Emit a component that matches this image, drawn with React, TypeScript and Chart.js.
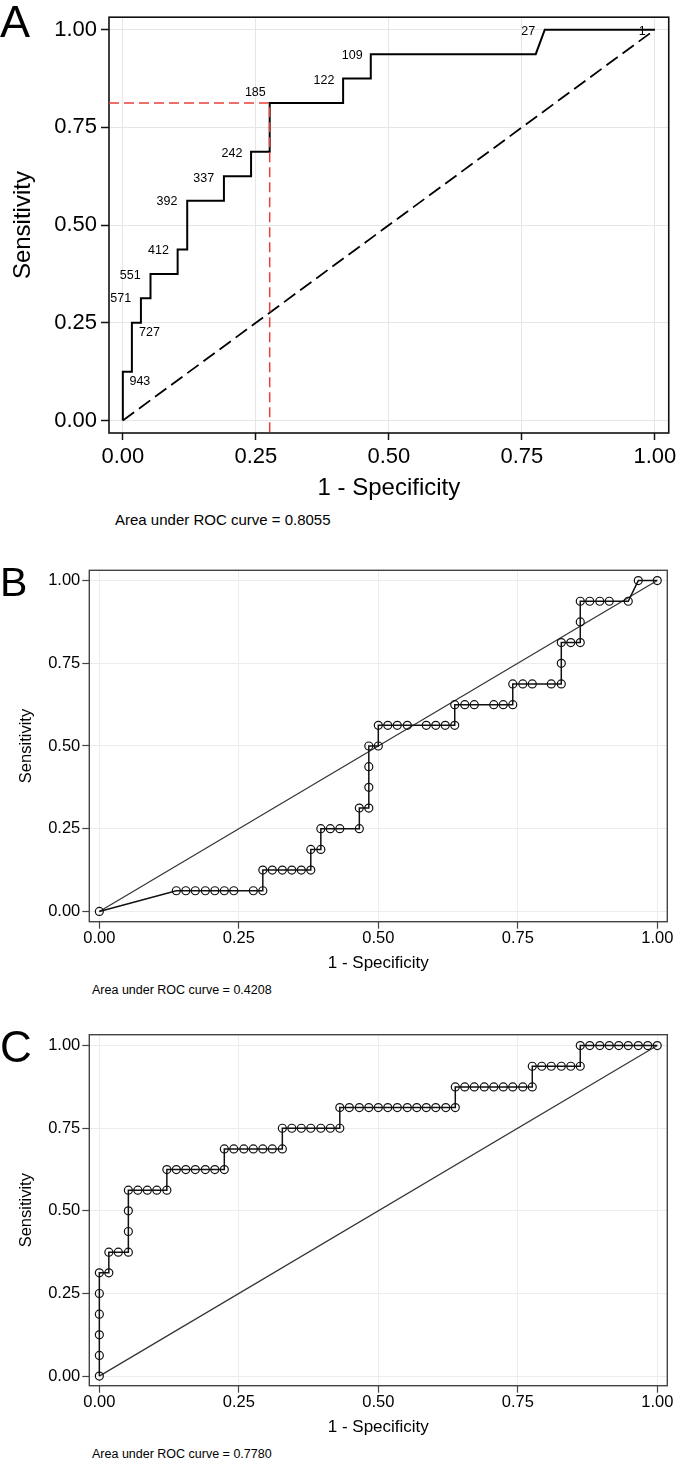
import React, { useEffect, useRef } from "react";
import { Chart, registerables } from "chart.js";

Chart.register(...registerables);

const FONT = '"Liberation Sans", Arial, Helvetica, sans-serif';

// Shared axis ticks / titles
const TICK_VALUES = [0, 0.25, 0.5, 0.75, 1];
const TICK_LABELS = ["0.00", "0.25", "0.50", "0.75", "1.00"];
const X_TITLE = "1 - Specificity";
const Y_TITLE = "Sensitivity";
const PANEL_LETTERS = ["A", "B", "C"];
const AUC_TEXTS = [
  "Area under ROC curve = 0.8055",
  "Area under ROC curve = 0.4208",
  "Area under ROC curve = 0.7780",
];

// Panel A: ROC step curve (1 - specificity, sensitivity)
const A_X = [0, 0, 0.017, 0.017, 0.034, 0.034, 0.052, 0.052, 0.103, 0.103, 0.121, 0.121, 0.19, 0.19, 0.241, 0.241, 0.276, 0.276, 0.414, 0.414, 0.466, 0.466, 0.776, 0.793, 1];
const A_Y = [0, 0.125, 0.125, 0.25, 0.25, 0.3125, 0.3125, 0.375, 0.375, 0.4375, 0.4375, 0.5625, 0.5625, 0.625, 0.625, 0.6875, 0.6875, 0.8125, 0.8125, 0.875, 0.875, 0.9375, 0.9375, 1, 1];
// cut-off labels
const A_LABELS = ["943", "727", "571", "551", "412", "392", "337", "242", "185", "122", "109", "27", "1"];
const A_LABEL_X = [0.032, 0.05, -0.004, 0.014, 0.067, 0.083, 0.152, 0.205, 0.249, 0.378, 0.431, 0.762, 0.976];
const A_LABEL_Y = [0.1, 0.224, 0.311, 0.371, 0.434, 0.559, 0.62, 0.682, 0.839, 0.87, 0.933, 0.996, 0.996];
// optimal cut-off reference
const A_CUT_X = 0.276;
const A_CUT_Y = 0.8125;

// Panel B
const B_X = [
  0,
  0.138, 0.155, 0.172, 0.19, 0.207, 0.224, 0.241, 0.276, 0.293,
  0.293, 0.31, 0.328, 0.345, 0.362, 0.379,
  0.379, 0.397,
  0.397, 0.414, 0.431, 0.466,
  0.466, 0.483,
  0.483, 0.483, 0.483, 0.5,
  0.5, 0.517, 0.534, 0.552, 0.586, 0.603, 0.62, 0.637,
  0.637, 0.655, 0.672, 0.707, 0.724, 0.741,
  0.741, 0.759, 0.776, 0.81, 0.828,
  0.828, 0.828, 0.845, 0.862,
  0.862, 0.862, 0.879, 0.897, 0.914, 0.948,
  0.966, 1,
];
const B_Y = [
  0,
  0.0625, 0.0625, 0.0625, 0.0625, 0.0625, 0.0625, 0.0625, 0.0625, 0.0625,
  0.125, 0.125, 0.125, 0.125, 0.125, 0.125,
  0.1875, 0.1875,
  0.25, 0.25, 0.25, 0.25,
  0.3125, 0.3125,
  0.375, 0.4375, 0.5, 0.5,
  0.5625, 0.5625, 0.5625, 0.5625, 0.5625, 0.5625, 0.5625, 0.5625,
  0.625, 0.625, 0.625, 0.625, 0.625, 0.625,
  0.6875, 0.6875, 0.6875, 0.6875, 0.6875,
  0.75, 0.8125, 0.8125, 0.8125,
  0.875, 0.9375, 0.9375, 0.9375, 0.9375, 0.9375,
  1, 1,
];

// Panel C
const C_X = [
  0, 0, 0, 0, 0, 0,
  0.017,
  0.017, 0.034, 0.052,
  0.052, 0.052, 0.052,
  0.069, 0.086, 0.103, 0.121,
  0.121, 0.138, 0.155, 0.172, 0.19, 0.207, 0.224,
  0.224, 0.241, 0.259, 0.276, 0.293, 0.31, 0.328,
  0.328, 0.345, 0.362, 0.379, 0.397, 0.414, 0.431,
  0.431, 0.448, 0.466, 0.483, 0.5, 0.517, 0.534, 0.552, 0.569, 0.586, 0.603, 0.621, 0.638,
  0.638, 0.655, 0.672, 0.69, 0.707, 0.724, 0.741, 0.759, 0.776,
  0.776, 0.793, 0.81, 0.828, 0.845, 0.862,
  0.862, 0.879, 0.897, 0.914, 0.931, 0.948, 0.966, 0.983, 1,
];
const C_Y = [
  0, 0.0625, 0.125, 0.1875, 0.25, 0.3125,
  0.3125,
  0.375, 0.375, 0.375,
  0.4375, 0.5, 0.5625,
  0.5625, 0.5625, 0.5625, 0.5625,
  0.625, 0.625, 0.625, 0.625, 0.625, 0.625, 0.625,
  0.6875, 0.6875, 0.6875, 0.6875, 0.6875, 0.6875, 0.6875,
  0.75, 0.75, 0.75, 0.75, 0.75, 0.75, 0.75,
  0.8125, 0.8125, 0.8125, 0.8125, 0.8125, 0.8125, 0.8125, 0.8125, 0.8125, 0.8125, 0.8125, 0.8125, 0.8125,
  0.875, 0.875, 0.875, 0.875, 0.875, 0.875, 0.875, 0.875, 0.875,
  0.9375, 0.9375, 0.9375, 0.9375, 0.9375, 0.9375,
  1, 1, 1, 1, 1, 1, 1, 1, 1,
];

// Reference diagonal
const DIAG_X = [0, 1];
const DIAG_Y = [0, 1];

const toPoints = (xs: number[], ys: number[]) => xs.map((x, i) => ({ x, y: ys[i] }));

const boxPlugin = {
  id: "box",
  beforeDatasetsDraw(chart: any, _args: any, opts: any) {
    const { ctx, chartArea: a } = chart;
    ctx.save();
    ctx.strokeStyle = opts.color || "#000";
    ctx.lineWidth = opts.width || 1;
    ctx.strokeRect(a.left, a.top, a.right - a.left, a.bottom - a.top);
    ctx.restore();
  },
};

const labelPlugin = {
  id: "cutlabels",
  afterDatasetsDraw(chart: any, _args: any, opts: any) {
    if (!opts || !opts.texts) return;
    const { ctx } = chart;
    const xs = chart.scales.x;
    const ys = chart.scales.y;
    ctx.save();
    ctx.font = opts.font;
    ctx.fillStyle = opts.color || "#000";
    ctx.textAlign = "center";
    ctx.textBaseline = "middle";
    opts.texts.forEach((t: string, i: number) => {
      ctx.fillText(t, xs.getPixelForValue(opts.xs[i]), ys.getPixelForValue(opts.ys[i]));
    });
    ctx.restore();
  },
};

interface Geo {
  height: number;
  padTop: number;
  padRight: number;
  yAxisWidth: number;
  xAxisHeight: number;
  xMin: number;
  xMax: number;
  yMin: number;
  yMax: number;
  tickFont: number;
  xTitleFont: number;
  yTitleFont: number;
  xTickLen: number;
  yTickLen: number;
  xTickPad: number;
  yTickPad: number;
  yTitlePad: number;
  xTitlePad: number;
  gridColor: string;
  boxColor: string;
  boxWidth: number;
  tickWidth: number;
}

function buildOptions(g: Geo, extraPlugins: any = {}) {
  return {
    responsive: false,
    maintainAspectRatio: false,
    animation: false,
    devicePixelRatio: 1,
    events: [],
    layout: { padding: { left: 0, top: g.padTop, right: g.padRight, bottom: 0 } },
    plugins: {
      legend: { display: false },
      tooltip: { enabled: false },
      title: { display: false },
      box: { color: g.boxColor, width: g.boxWidth },
      ...extraPlugins,
    },
    scales: {
      x: {
        type: "linear",
        min: g.xMin,
        max: g.xMax,
        afterFit: (s: any) => {
          s.height = g.xAxisHeight;
        },
        afterBuildTicks: (s: any) => {
          s.ticks = TICK_VALUES.map((v) => ({ value: v }));
        },
        ticks: {
          callback: (_v: any, i: number) => TICK_LABELS[i],
          font: { family: FONT, size: g.tickFont },
          color: "#000",
          padding: g.xTickPad,
          maxRotation: 0,
          minRotation: 0,
          autoSkip: false,
        },
        grid: {
          color: g.gridColor,
          lineWidth: 1,
          drawTicks: true,
          tickLength: g.xTickLen,
          tickColor: g.boxColor,
          tickWidth: g.tickWidth,
        },
        border: { display: false },
        title: {
          display: true,
          text: X_TITLE,
          color: "#000",
          font: { family: FONT, size: g.xTitleFont },
          padding: { top: 0, bottom: g.xTitlePad },
        },
      },
      y: {
        type: "linear",
        min: g.yMin,
        max: g.yMax,
        afterFit: (s: any) => {
          s.width = g.yAxisWidth;
        },
        afterBuildTicks: (s: any) => {
          s.ticks = TICK_VALUES.map((v) => ({ value: v }));
        },
        ticks: {
          callback: (_v: any, i: number) => TICK_LABELS[i],
          font: { family: FONT, size: g.tickFont },
          color: "#000",
          padding: g.yTickPad,
          autoSkip: false,
        },
        grid: {
          color: g.gridColor,
          lineWidth: 1,
          drawTicks: true,
          tickLength: g.yTickLen,
          tickColor: g.boxColor,
          tickWidth: g.tickWidth,
        },
        border: { display: false },
        title: {
          display: true,
          text: Y_TITLE,
          color: "#000",
          font: { family: FONT, size: g.yTitleFont },
          padding: { top: g.yTitlePad, bottom: 0 },
        },
      },
    },
  };
}

const GEO_A: Geo = {
  height: 505,
  padTop: 3,
  padRight: 7.3,
  yAxisWidth: 109,
  xAxisHeight: 72,
  xMin: -0.026,
  xMax: 1.026,
  yMin: -0.032,
  yMax: 1.032,
  tickFont: 22,
  xTitleFont: 24,
  yTitleFont: 24,
  xTickLen: 7,
  yTickLen: 8,
  xTickPad: 3.5,
  yTickPad: 4,
  yTitlePad: 8.6,
  xTitlePad: 2.6,
  gridColor: "#e6e6e6",
  boxColor: "#111",
  boxWidth: 1.6,
  tickWidth: 1.5,
};

const GEO_B: Geo = {
  height: 425,
  padTop: 20.3,
  padRight: 12.7,
  yAxisWidth: 89.3,
  xAxisHeight: 53.3,
  xMin: -0.018,
  xMax: 1.018,
  yMin: -0.031,
  yMax: 1.031,
  tickFont: 16.5,
  xTitleFont: 17,
  yTitleFont: 16.5,
  xTickLen: 7,
  yTickLen: 7,
  xTickPad: 0,
  yTickPad: 2,
  yTitlePad: 16.1,
  xTitlePad: 1.5,
  gridColor: "#ededed",
  boxColor: "#444",
  boxWidth: 1.4,
  tickWidth: 1.2,
};

const GEO_C: Geo = { ...GEO_B, padTop: 19.7, xAxisHeight: 54.3, yMin: -0.029, yMax: 1.033, xTitlePad: 2 };

function configA() {
  return {
    type: "line",
    data: {
      datasets: [
        {
          data: [
            { x: GEO_A.xMin, y: A_CUT_Y },
            { x: A_CUT_X, y: A_CUT_Y },
            { x: A_CUT_X, y: GEO_A.yMin },
          ],
          borderColor: "#e8403b",
          borderWidth: 1.5,
          borderDash: [10, 5],
          pointRadius: 0,
          tension: 0,
        },
        {
          data: toPoints(A_X, A_Y),
          borderColor: "#000",
          borderWidth: 2,
          pointRadius: 0,
          tension: 0,
        },
        {
          data: toPoints(DIAG_X, DIAG_Y),
          borderColor: "#000",
          borderWidth: 1.8,
          borderDash: [14, 6],
          pointRadius: 0,
          tension: 0,
        },
      ],
    },
    options: buildOptions(GEO_A, {
      cutlabels: {
        texts: A_LABELS,
        xs: A_LABEL_X,
        ys: A_LABEL_Y,
        font: `12.5px ${FONT}`,
        color: "#000",
      },
    }),
    plugins: [boxPlugin, labelPlugin],
  };
}

function configBC(xs: number[], ys: number[], g: Geo) {
  return {
    type: "line",
    data: {
      datasets: [
        {
          data: toPoints(xs, ys),
          borderColor: "#111",
          borderWidth: 1.5,
          pointRadius: 4,
          pointStyle: "circle",
          pointBorderWidth: 1.2,
          pointBorderColor: "#111",
          pointBackgroundColor: "rgba(0,0,0,0)",
          tension: 0,
        },
        {
          data: toPoints(DIAG_X, DIAG_Y),
          borderColor: "#333",
          borderWidth: 1.2,
          pointRadius: 0,
          tension: 0,
        },
      ],
    },
    options: buildOptions(g),
    plugins: [boxPlugin],
  };
}

function ChartCanvas({ top, height, make }: { top: number; height: number; make: () => any }) {
  const ref = useRef<HTMLCanvasElement | null>(null);
  useEffect(() => {
    if (!ref.current) return;
    const chart = new Chart(ref.current, make());
    return () => chart.destroy();
  }, []);
  return (
    <canvas
      ref={ref}
      width={680}
      height={height}
      style={{ position: "absolute", left: 0, top, width: 680, height, display: "block" }}
    />
  );
}

function Letter({ text, size, baseline }: { text: string; size: number; baseline: number }) {
  return (
    <div
      style={{
        position: "absolute",
        left: 0,
        top: baseline - 0.8465 * size,
        fontFamily: FONT,
        fontSize: size,
        lineHeight: `${size}px`,
        color: "#000",
        whiteSpace: "nowrap",
      }}
    >
      {text}
    </div>
  );
}

function Note({ text, size, left, center }: { text: string; size: number; left: number; center: number }) {
  return (
    <div
      style={{
        position: "absolute",
        left,
        top: center - 0.6 * size,
        fontFamily: FONT,
        fontSize: size,
        lineHeight: `${size * 1.2}px`,
        color: "#000",
        whiteSpace: "nowrap",
      }}
    >
      {text}
    </div>
  );
}

export default function App() {
  return (
    <div style={{ position: "absolute", left: 0, top: 0, width: 680, height: 1459, background: "#fff", overflow: "hidden" }}>
      <ChartCanvas top={0} height={GEO_A.height} make={configA} />
      <ChartCanvas top={550} height={GEO_B.height} make={() => configBC(B_X, B_Y, GEO_B)} />
      <ChartCanvas top={1015} height={GEO_C.height} make={() => configBC(C_X, C_Y, GEO_C)} />
      <Letter text={PANEL_LETTERS[0]} size={45} baseline={37} />
      <Letter text={PANEL_LETTERS[1]} size={41} baseline={597} />
      <Letter text={PANEL_LETTERS[2]} size={44} baseline={1062} />
      <Note text={AUC_TEXTS[0]} size={15} left={115} center={520} />
      <Note text={AUC_TEXTS[1]} size={12.5} left={92} center={990} />
      <Note text={AUC_TEXTS[2]} size={12.5} left={92} center={1454} />
    </div>
  );
}
